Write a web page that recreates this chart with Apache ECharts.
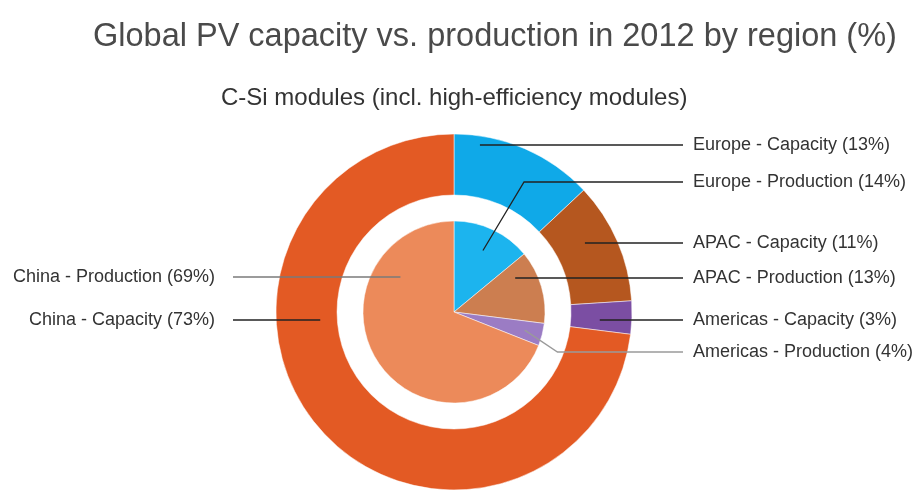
<!DOCTYPE html>
<html>
<head>
<meta charset="utf-8">
<script src="https://cdn.jsdelivr.net/npm/echarts@6/dist/echarts.min.js"></script>
<style>
body { margin: 0; padding: 0; background: #fff; }
#main { width: 917px; height: 492px; }
</style>
</head>
<body>
<div id="main"></div>
<script>
// data (%)
const regions = ['Europe', 'APAC', 'Americas', 'China']
const capacity = [13, 11, 3, 73]
const production = [14, 13, 4, 69]

const capColors = ['#0fa9e8', '#b5571f', '#7b4ea3', '#e35a24']
const prodColors = ['#1cb4ee', '#cc7e50', '#9b7cc4', '#ec8a5a']

// label layout: y of each label, radius where its line starts, bend slope
const capLabelY = [145, 243, 320, 320]
const capAnchorR = [169, 148, 146, 134]
const prodLabelY = [182, 278, 352, 277]
const prodAnchorR = [68, 70, 73, 64]
const prodBend = [0.6, 0.6, 1.5, 0.6]

const cx = 454
const cy = 312

function sliceRange (values, i) {
  const total = values.reduce(function (a, b) { return a + b }, 0)
  let s = 0
  for (let k = 0; k < i; k++) s += values[k]
  return [s / total * 360, (s + values[i]) / total * 360]
}

function sideOf (i) {
  return regions[i] === 'China' ? -1 : 1
}

// leader line: starts inside the slice, ends just before the label
function linePoints (values, i, labelY, rs, bend) {
  const side = sideOf(i)
  const endX = side > 0 ? 683 : 233
  const rg = sliceRange(values, i)
  const dy = labelY - cy
  if (Math.abs(dy) < rs) {
    const x = cx + side * Math.sqrt(rs * rs - dy * dy)
    let a = Math.atan2(x - cx, -dy) * 180 / Math.PI
    if (a < 0) a += 360
    if (a >= rg[0] && a <= rg[1]) {
      return [[x, labelY], [endX, labelY]]
    }
  }
  const mid = (rg[0] + rg[1]) / 2 * Math.PI / 180
  const px = cx + rs * Math.sin(mid)
  const py = cy - rs * Math.cos(mid)
  const bx = px + side * Math.abs(labelY - py) * bend
  return [[px, py], [bx, labelY], [endX, labelY]]
}

function layoutFor (ys) {
  return function (params) {
    const i = params.dataIndex
    const side = sideOf(i)
    return {
      x: side > 0 ? 693 : 215,
      y: ys[i],
      align: side > 0 ? 'left' : 'right',
      verticalAlign: 'middle'
    }
  }
}

const lineColors = {
  'China - Production': '#7a7a7a',
  'Americas - Production': '#9a9a9a'
}

function leaderLines (values, ys, rs, bends, kind) {
  return values.map(function (v, i) {
    const name = regions[i] + ' - ' + kind
    return {
      type: 'polyline',
      z: 100,
      silent: true,
      shape: { points: linePoints(values, i, ys[i], rs[i], bends ? bends[i] : 0.6) },
      style: { stroke: lineColors[name] || '#222', lineWidth: 1.3, fill: null }
    }
  })
}

function buildData (values, colors, kind) {
  return values.map(function (v, i) {
    return {
      value: v,
      name: regions[i] + ' - ' + kind,
      itemStyle: { color: colors[i] }
    }
  })
}

const labelStyle = {
  show: true,
  position: 'outside',
  fontFamily: 'Liberation Sans',
  fontSize: 18,
  color: '#333',
  formatter: function (p) { return p.name + ' (' + p.value + '%)' }
}

let myChart = echarts.init(document.getElementById('main'))
myChart.setOption({
  backgroundColor: '#fff',
  animation: false,
  title: [{
    text: 'Global PV capacity vs. production in 2012 by region (%)',
    left: 88,
    top: 16,
    textStyle: { fontFamily: 'Liberation Sans', fontSize: 32.5, fontWeight: 'normal', color: '#4a4a4a' }
  }, {
    text: 'C-Si modules (incl. high-efficiency modules)',
    left: 216,
    top: 81,
    textStyle: { fontFamily: 'Liberation Sans', fontSize: 24, fontWeight: 'normal', color: '#333' }
  }],
  graphic: leaderLines(capacity, capLabelY, capAnchorR, null, 'Capacity')
    .concat(leaderLines(production, prodLabelY, prodAnchorR, prodBend, 'Production')),
  series: [{
    name: 'Capacity',
    type: 'pie',
    center: [cx, cy],
    radius: [117, 178],
    startAngle: 90,
    clockwise: true,
    label: labelStyle,
    labelLine: { show: false },
    labelLayout: layoutFor(capLabelY),
    itemStyle: { borderColor: 'rgba(255,255,255,0.5)', borderWidth: 1 },
    emphasis: { disabled: true },
    data: buildData(capacity, capColors, 'Capacity')
  }, {
    name: 'Production',
    type: 'pie',
    center: [cx, cy],
    radius: [0, 91],
    startAngle: 90,
    clockwise: true,
    label: labelStyle,
    labelLine: { show: false },
    labelLayout: layoutFor(prodLabelY),
    itemStyle: { borderColor: 'rgba(255,255,255,0.5)', borderWidth: 1 },
    emphasis: { disabled: true },
    data: buildData(production, prodColors, 'Production')
  }]
})
</script>
</body>
</html>
